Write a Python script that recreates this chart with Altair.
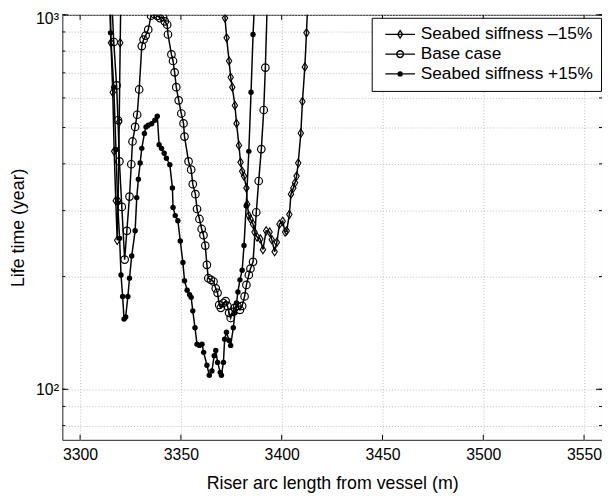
import altair as alt
import pandas as pd

S_MINUS = "Seabed siffness –15%"
S_BASE = "Base case"
S_PLUS = "Seabed siffness +15%"
series_names = [S_MINUS, S_BASE, S_PLUS]

minus_x = [3315.0, 3315.3, 3316.2, 3316.9, 3317.7, 3318.4, 3318.9, 3319.4, 3319.9, 3320.2,
           3371.6, 3371.9, 3372.7, 3373.9, 3374.7, 3375.5, 3376.8, 3377.6, 3378.8, 3379.6,
           3380.4, 3381.3, 3382.5, 3382.9, 3383.7, 3384.5, 3385.8, 3386.5, 3387.8, 3389.4,
           3390.7, 3392.3, 3394.0, 3395.1, 3396.5, 3397.6, 3398.9, 3400.5, 3401.7, 3402.5,
           3403.8, 3404.6, 3405.8, 3406.6, 3407.4, 3408.2, 3409.5, 3410.3, 3411.5, 3412.3, 3413.0]
minus_y = [1100, 842, 621, 432, 319, 250, 319, 518, 842, 1100,
           1100, 980, 868, 753, 681, 641, 573, 513, 448, 404,
           382, 371, 345, 312, 291, 285, 276, 263, 255, 252,
           236, 265, 263, 251, 233, 247, 276, 281, 263, 265,
           293, 332, 345, 356, 371, 402, 483, 587, 726, 895, 1100]

base_x = [3315.7, 3316.7, 3318.1, 3318.8, 3319.5, 3320.7, 3322.1, 3323.2, 3324.5, 3325.4,
          3326.0, 3327.3, 3328.3, 3329.3, 3330.6, 3331.5, 3332.5, 3333.8, 3335.2, 3336.8,
          3338.4, 3339.6, 3341.2, 3342.0, 3343.2, 3343.6, 3345.3, 3346.1, 3346.9, 3347.7,
          3348.9, 3350.2, 3351.3, 3351.8, 3353.8, 3355.1, 3355.9, 3357.2, 3358.0, 3359.2,
          3360.3, 3361.2, 3362.1, 3362.9, 3363.6, 3364.9, 3366.2, 3367.3, 3368.2, 3369.0,
          3369.8, 3371.1, 3372.2, 3373.1, 3373.9, 3374.7, 3375.5, 3376.7, 3378.0, 3379.3,
          3380.4, 3381.6, 3382.5, 3383.7, 3384.5, 3385.8, 3387.4, 3388.6, 3389.9, 3391.1,
          3391.9, 3392.9]
base_y = [1100, 846, 648, 523, 406, 307, 222, 265, 327, 399,
          459, 502, 541, 632, 825, 859, 880, 913, 995, 1005,
          994, 980, 986, 961, 941, 886, 784, 753, 702, 641,
          591, 545, 513, 473, 406, 386, 353, 332, 303, 285,
          268, 258, 242, 215, 198, 196, 194, 186, 181, 168,
          165, 170, 172, 167, 160, 155, 161, 165, 167, 163,
          167, 177, 190, 202, 210, 219, 297, 360, 438, 557,
          723, 1100]

plus_x = [3314.7, 3315.1, 3316.7, 3317.8, 3318.6, 3319.6, 3320.3, 3321.1, 3321.8, 3322.6,
          3323.7, 3324.5, 3325.6, 3327.3, 3328.1, 3328.9, 3329.8, 3330.6, 3331.9, 3332.7,
          3333.8, 3335.5, 3337.1, 3338.3, 3339.2, 3340.4, 3341.7, 3342.8, 3344.5, 3345.8,
          3346.1, 3347.2, 3348.5, 3349.7, 3351.0, 3351.8, 3353.1, 3354.3, 3355.1, 3355.9,
          3357.0, 3358.0, 3359.2, 3360.5, 3361.3, 3362.9, 3364.1, 3365.4, 3366.5, 3367.3,
          3368.2, 3369.5, 3370.1, 3371.1, 3371.7, 3372.6, 3373.9, 3374.7, 3376.0, 3376.8,
          3377.6, 3378.3, 3379.3, 3380.4, 3381.3, 3382.4, 3383.7, 3384.8, 3385.8, 3386.6]
plus_y = [1100, 895, 641, 437, 315, 253, 202, 177, 154, 156,
          177, 198, 227, 265, 325, 364, 402, 440, 482, 502,
          507, 512, 523, 536, 450, 440, 427, 414, 398, 345,
          306, 291, 282, 249, 218, 195, 184, 179, 176, 162,
          146, 132, 131, 132, 125.5, 116, 109, 112, 123, 127,
          118, 111, 109, 118, 136, 142, 135, 131, 146, 160,
          170, 182, 196, 208, 242, 309, 432, 621, 886, 1100]

x_ticks = [3300, 3350, 3400, 3450, 3500, 3550]
y_ticks = [80, 90, 100, 200, 300, 400, 500, 600, 700, 800, 900, 1000]
y_major = [100, 1000]
x_domain = [3291.2, 3558.9]
y_domain = [73.3, 1000]

rows = []
for name, xs_, ys_ in [(S_MINUS, minus_x, minus_y), (S_BASE, base_x, base_y), (S_PLUS, plus_x, plus_y)]:
    for i, (a, b) in enumerate(zip(xs_, ys_)):
        rows.append({"series": name, "x": a, "y": b, "order": i})
df = pd.DataFrame(rows)

W, H = 546, 430
FONT = "Liberation Sans"

xs = alt.Scale(domain=x_domain, nice=False, zero=False)
ys = alt.Scale(type="log", domain=y_domain, nice=False)

x_enc = alt.X("x:Q", scale=xs, axis=alt.Axis(
    values=x_ticks, format="d", title="Riser arc length from vessel (m)",
    labelPadding=7, titlePadding=12, grid=True))
y_enc = alt.Y("y:Q", scale=ys, axis=alt.Axis(
    values=y_ticks, title="Life time (year)",
    labelExpr="datum.value == 100 ? '10²' : (datum.value == 1000 ? '10³' : '')",
    labelOffset={"condition": {"test": "datum.value == 1000", "value": 4}, "value": 0},
    labelPadding=4, titlePadding=8, grid=True))

base = alt.Chart(df)

lines = base.mark_line(color="black", strokeWidth=1.5, clip=True).encode(
    x=x_enc, y=y_enc, detail="series:N", order="order:Q")

pts_minus = base.transform_filter(alt.datum.series == S_MINUS).mark_point(
    shape="M0,-1L0.65,0L0,1L-0.65,0Z", size=70, filled=False, color="black",
    strokeWidth=1.1, opacity=1, clip=True).encode(x="x:Q", y="y:Q")
pts_base = base.transform_filter(alt.datum.series == S_BASE).mark_point(
    shape="circle", size=58, filled=False, color="black",
    strokeWidth=1.2, opacity=1, clip=True).encode(x="x:Q", y="y:Q")
pts_plus = base.transform_filter(alt.datum.series == S_PLUS).mark_point(
    shape="circle", size=30, filled=True, color="black",
    opacity=1, clip=True).encode(x="x:Q", y="y:Q")

legend_paths = [
    "M-2,0L2,0M0,-0.5L0.33,0L0,0.5L-0.33,0Z",
    "M-2,0L2,0M0.45,0A0.45,0.45,0,1,1,-0.45,0A0.45,0.45,0,1,1,0.45,0Z",
    "M-2,0L2,0M0.27,0A0.27,0.27,0,1,1,-0.27,0A0.27,0.27,0,1,1,0.27,0ZM0.13,0A0.13,0.13,0,1,1,-0.13,0A0.13,0.13,0,1,1,0.13,0Z",
]
legend_df = pd.DataFrame({"series": series_names})
leg = alt.Chart(legend_df).mark_point(filled=False, color="black", opacity=0).encode(
    shape=alt.Shape("series:N", scale=alt.Scale(domain=series_names, range=legend_paths),
                    legend=alt.Legend(title=None, orient="none", legendX=313, legendY=3,
                                      symbolSize=225, symbolOpacity=1, symbolStrokeWidth=1.4,
                                      symbolStrokeColor="black", symbolOffset=12, labelOffset=12,
                                      labelFont=FONT, labelFontSize=17.5, labelColor="black",
                                      labelLimit=300, padding=8, rowPadding=1,
                                      strokeColor="black", fillColor="white")))

xt_df = pd.DataFrame({"t": x_ticks})
yt_df = pd.DataFrame({"t": y_ticks})
ym_df = pd.DataFrame({"t": y_major})
tick_top = alt.Chart(xt_df).mark_rule(color="black", strokeWidth=1).encode(
    x=alt.X("t:Q", scale=xs), y=alt.value(0), y2=alt.value(5))
tick_bot = alt.Chart(xt_df).mark_rule(color="black", strokeWidth=1).encode(
    x=alt.X("t:Q", scale=xs), y=alt.value(H - 5), y2=alt.value(H))
tick_left = alt.Chart(yt_df).mark_rule(color="black", strokeWidth=1).encode(
    y=alt.Y("t:Q", scale=ys), x=alt.value(0), x2=alt.value(3))
tick_right = alt.Chart(yt_df).mark_rule(color="black", strokeWidth=1).encode(
    y=alt.Y("t:Q", scale=ys), x=alt.value(W - 3), x2=alt.value(W))
tick_left_m = alt.Chart(ym_df).mark_rule(color="black", strokeWidth=1).encode(
    y=alt.Y("t:Q", scale=ys), x=alt.value(0), x2=alt.value(6))
tick_right_m = alt.Chart(ym_df).mark_rule(color="black", strokeWidth=1).encode(
    y=alt.Y("t:Q", scale=ys), x=alt.value(W - 6), x2=alt.value(W))

chart = alt.layer(
    lines, pts_minus, pts_base, pts_plus,
    tick_top, tick_bot, tick_left, tick_right, tick_left_m, tick_right_m, leg
).properties(
    width=W, height=H,
    autosize=alt.AutoSizeParams(type="none"),
    padding={"left": 55, "top": 4, "right": 0, "bottom": 60},
).configure_view(
    stroke="#222", strokeWidth=1
).configure_axis(
    labelFont=FONT, titleFont=FONT, labelFontSize=16, titleFontSize=18,
    labelColor="black", titleColor="black", titleFontWeight="normal",
    domain=False, ticks=False,
    gridColor="#bdbdbd", gridDash=[1, 2], gridWidth=1
)

chart.save("out.html", embed_options={"renderer": "svg", "actions": False})
